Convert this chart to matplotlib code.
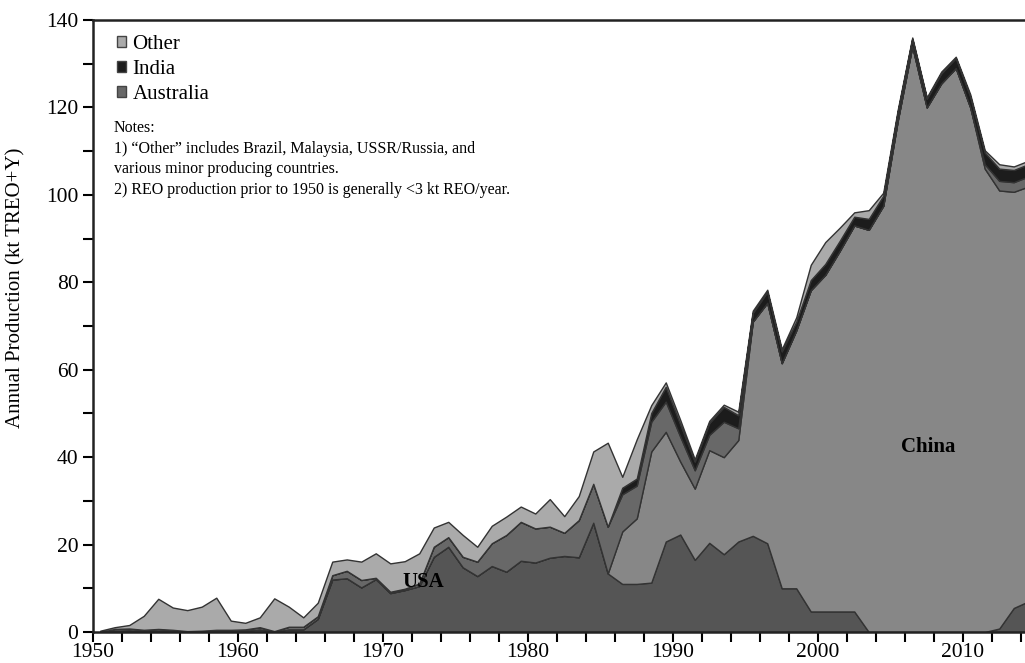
import matplotlib
matplotlib.use('Agg')
import matplotlib.pyplot as plt
from matplotlib.patches import Patch
from matplotlib.ticker import MultipleLocator
import numpy as np

plt.rcParams['font.family'] = ['Liberation Serif', 'DejaVu Serif']

years = list(range(1950, 2015))

usa = [0.0, 0.3, 0.4, 0.2, 0.3, 0.2, 0.1, 0.1, 0.2, 0.2,
       0.3, 0.6, 0.1, 0.6, 0.6, 3.0, 12.0, 12.3, 10.2, 12.1,
       8.9, 9.6, 10.5, 17.2, 19.5, 14.8, 12.8, 15.1, 13.8, 16.3,
       15.9, 17.0, 17.4, 17.1, 25.0, 13.4, 11.0, 11.0, 11.3, 20.7,
       22.3, 16.5, 20.4, 17.8, 20.7, 22.0, 20.3, 10.0, 10.0, 4.7,
       4.7, 4.7, 4.7, 0, 0, 0, 0, 0, 0, 0,
       0, 0, 0.8, 5.5, 7.0]
china = [0] * 36 + [12.0, 15.0, 30.0, 25.1,
         16.7, 16.3, 21.2, 22.2, 23.2, 49.0, 55.0, 51.5, 59.0, 73.5,
         77.0, 82.5, 88.3, 92.0, 97.5, 117.0, 134.0, 120.0, 125.5, 129.0,
         120.0, 106.0, 100.2, 95.2, 94.9]
australia = [0.0, 0.4, 0.4, 0.3, 0.4, 0.3, 0.1, 0.2, 0.3, 0.3,
             0.3, 0.5, 0.1, 0.6, 0.6, 0.6, 1.0, 1.7, 1.7, 0.3,
             0.3, 0.3, 0.6, 2.3, 2.2, 2.4, 3.3, 5.2, 8.4, 8.9,
             7.8, 7.1, 5.3, 8.5, 8.9, 10.7, 8.5, 7.5, 6.8, 6.9,
             5.7, 4.2, 3.5, 8.1, 2.7, 0, 0, 0, 0, 0,
             0, 0, 0, 0, 0, 0, 0, 0, 0, 0,
             0, 1.0, 2.2, 2.2, 2.3]
india = [0] * 36 + [1.5, 1.6, 2.0, 3.4,
         2.8, 2.0, 2.7, 3.4, 3.0, 2.0, 2.5, 2.7, 2.0, 2.3,
         2.5, 2.3, 2.0, 2.5, 2.3, 2.0, 1.7, 2.0, 2.3, 2.3,
         2.5, 2.7, 2.8, 2.8, 2.8]
other = [0.3, 0.4, 0.8, 3.2, 6.9, 5.1, 4.8, 5.5, 7.35, 2.1,
         1.5, 2.25, 7.5, 4.6, 2.15, 3.1, 3.1, 2.6, 4.2, 5.6,
         6.5, 6.3, 6.9, 4.4, 3.5, 5.0, 3.4, 4.0, 4.2, 3.5,
         3.4, 6.3, 3.8, 5.5, 7.4, 19.2, 2.5, 9.0, 1.8, 1.0,
         1.0, 0.5, 0.5, 0.5, 0.8, 0.5, 0.5, 0.5, 1.0, 3.5,
         5.0, 3.0, 1.0, 2.0, 0.7, 0.5, 0.3, 0.3, 0.4, 0.3,
         0.5, 0.5, 1.0, 0.8, 0.8]

names = ['USA', 'China', 'Australia', 'India', 'Other']
colors = ['#555555', '#878787', '#686868', '#1c1c1c', '#aaaaaa']

fig = plt.figure(figsize=(10.25, 6.63), dpi=100)
ax = fig.add_axes([93 / 1025, 31 / 663, 1 - 93 / 1025, 612 / 663])

# points sit in the middle of each year slot (excel style)
x = np.array(years) + 0.5
ax.stackplot(x, usa, china, australia, india, other, colors=colors,
             edgecolor='#333333', linewidth=1.0)

ax.set_xlim(1950, 1950 + (1025 - 93) / 14.5)
ax.set_ylim(0, 140)
ax.xaxis.set_major_locator(MultipleLocator(10))
ax.xaxis.set_minor_locator(MultipleLocator(2))
ax.yaxis.set_major_locator(MultipleLocator(20))
ax.yaxis.set_minor_locator(MultipleLocator(10))
ax.tick_params(which='both', direction='out', length=7, width=1.5, labelsize=15.5)
ax.tick_params(axis='x', pad=1)
for s in ['left', 'bottom', 'top']:
    ax.spines[s].set_linewidth(1.8)
    ax.spines[s].set_color('#222222')
ax.spines['right'].set_visible(False)

ax.set_ylabel('Annual Production (kt TREO+Y)', fontsize=15)
ax.yaxis.set_label_coords(-0.072, 0.562)

ax.text(1972.8, 11.4, 'USA', fontsize=15, fontweight='bold', ha='center', va='center')
ax.text(2007.6, 42.3, 'China', fontsize=15, fontweight='bold', ha='center', va='center')

handles = [Patch(facecolor=colors[i], edgecolor='#444444', linewidth=1.0)
           for i in [4, 3, 2]]
ax.legend(handles, ['Other', 'India', 'Australia'], loc='upper left',
          frameon=False, fontsize=15, handlelength=0.45, handleheight=0.45,
          handletextpad=0.3, labelspacing=0.3, borderaxespad=0.3,
          bbox_to_anchor=(0.01, 1.0))

notes = ('Notes:\n'
         '1) \u201cOther\u201d includes Brazil, Malaysia, USSR/Russia, and\n'
         'various minor producing countries.\n'
         '2) REO production prior to 1950 is generally <3 kt REO/year.')
ax.text((114 - 93) / 932, (632 - 120) / 612, notes, transform=ax.transAxes,
        fontsize=11.5, va='top', ha='left', linespacing=1.38)

fig.savefig('out.png', dpi=100)
